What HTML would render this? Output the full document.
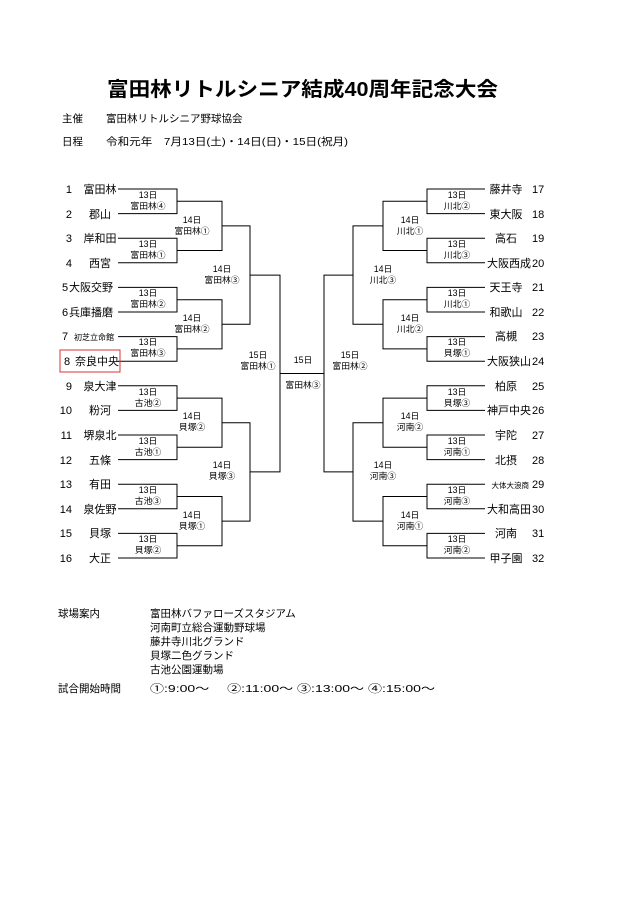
<!DOCTYPE html>
<html><head><meta charset="utf-8"><style>
html,body{margin:0;padding:0;background:#fff;}
svg{display:block;font-family:"Liberation Sans","Noto Sans CJK JP",sans-serif;}
.t{font-size:11px;fill:#000}
.l{font-size:8.8px;fill:#000;text-anchor:middle}
</style></head><body>
<svg width="640" height="905" viewBox="0 0 640 905" xmlns="http://www.w3.org/2000/svg">
<text x="107" y="96" font-size="20" font-weight="bold" textLength="391" lengthAdjust="spacingAndGlyphs">富田林リトルシニア結成40周年記念大会</text>
<text x="62" y="122" font-size="10.5">主催</text>
<text x="106" y="122" font-size="10.5">富田林リトルシニア野球協会</text>
<text x="62" y="145" font-size="10.5">日程</text>
<text x="106" y="145" font-size="10.5" textLength="242" lengthAdjust="spacingAndGlyphs">令和元年　7月13日(土)・14日(日)・15日(祝月)</text>

<g stroke="#000" stroke-width="1" fill="none">
<path d="M118 189H177V213.6H118 M118 238.2H177V262.8H118 M118 287.4H177V312H118 M118 336.6H177V361.2H118 M118 385.8H177V410.4H118 M118 435H177V459.6H118 M118 484.2H177V508.8H118 M118 533.4H177V558H118"/>
<path d="M177 201.3H222V250.5H177 M177 299.7H222V348.9H177 M177 398.1H222V447.3H177 M177 496.5H222V545.7H177"/>
<path d="M222 225.9H250V324.3H222 M222 422.7H250V521.1H222"/>
<path d="M250 275.1H280V471.9H250"/>
<path d="M280 373.5H324"/>
<path d="M485 189H427V213.6H485 M485 238.2H427V262.8H485 M485 287.4H427V312H485 M485 336.6H427V361.2H485 M485 385.8H427V410.4H485 M485 435H427V459.6H485 M485 484.2H427V508.8H485 M485 533.4H427V558H485"/>
<path d="M427 201.3H383V250.5H427 M427 299.7H383V348.9H427 M427 398.1H383V447.3H427 M427 496.5H383V545.7H427"/>
<path d="M383 225.9H353V324.3H383 M383 422.7H353V521.1H383"/>
<path d="M353 275.1H324V471.9H353"/>
</g>
<rect x="60" y="350" width="60" height="22" fill="none" stroke="#d33" stroke-width="1"/>

<g class="t">
<text x="72" y="193" text-anchor="end">1</text><text x="100" y="193" text-anchor="middle">富田林</text>
<text x="72" y="218" text-anchor="end">2</text><text x="100" y="218" text-anchor="middle">郡山</text>
<text x="72" y="242" text-anchor="end">3</text><text x="100" y="242" text-anchor="middle">岸和田</text>
<text x="72" y="267" text-anchor="end">4</text><text x="100" y="267" text-anchor="middle">西宮</text>
<text x="62" y="291">5</text><text x="69" y="291">大阪交野</text>
<text x="62" y="316">6</text><text x="69" y="316">兵庫播磨</text>
<text x="62" y="340">7</text><text x="74" y="340" font-size="8">初芝立命館</text>
<text x="64" y="365">8</text><text x="75" y="365">奈良中央</text>
<text x="72" y="390" text-anchor="end">9</text><text x="100" y="390" text-anchor="middle">泉大津</text>
<text x="72" y="414" text-anchor="end">10</text><text x="100" y="414" text-anchor="middle">粉河</text>
<text x="72" y="439" text-anchor="end">11</text><text x="100" y="439" text-anchor="middle">堺泉北</text>
<text x="72" y="464" text-anchor="end">12</text><text x="100" y="464" text-anchor="middle">五條</text>
<text x="72" y="488" text-anchor="end">13</text><text x="100" y="488" text-anchor="middle">有田</text>
<text x="72" y="513" text-anchor="end">14</text><text x="100" y="513" text-anchor="middle">泉佐野</text>
<text x="72" y="537" text-anchor="end">15</text><text x="100" y="537" text-anchor="middle">貝塚</text>
<text x="72" y="562" text-anchor="end">16</text><text x="100" y="562" text-anchor="middle">大正</text>
</g>
<g class="t">
<text x="506" y="193" text-anchor="middle">藤井寺</text><text x="532" y="193">17</text>
<text x="506" y="218" text-anchor="middle">東大阪</text><text x="532" y="218">18</text>
<text x="506" y="242" text-anchor="middle">高石</text><text x="532" y="242">19</text>
<text x="531" y="267" text-anchor="end">大阪西成</text><text x="532" y="267">20</text>
<text x="506" y="291" text-anchor="middle">天王寺</text><text x="532" y="291">21</text>
<text x="506" y="316" text-anchor="middle">和歌山</text><text x="532" y="316">22</text>
<text x="506" y="340" text-anchor="middle">高槻</text><text x="532" y="340">23</text>
<text x="531" y="365" text-anchor="end">大阪狭山</text><text x="532" y="365">24</text>
<text x="506" y="390" text-anchor="middle">柏原</text><text x="532" y="390">25</text>
<text x="531" y="414" text-anchor="end">神戸中央</text><text x="532" y="414">26</text>
<text x="506" y="439" text-anchor="middle">宇陀</text><text x="532" y="439">27</text>
<text x="506" y="464" text-anchor="middle">北摂</text><text x="532" y="464">28</text>
<text x="529" y="488" text-anchor="end" font-size="7.5">大体大浪商</text><text x="532" y="488">29</text>
<text x="531" y="513" text-anchor="end">大和高田</text><text x="532" y="513">30</text>
<text x="506" y="537" text-anchor="middle">河南</text><text x="532" y="537">31</text>
<text x="506" y="562" text-anchor="middle">甲子園</text><text x="532" y="562">32</text>
</g>

<g class="l">
<text x="148" y="198">13日</text><text x="148" y="209">富田林④</text>
<text x="148" y="247">13日</text><text x="148" y="258">富田林①</text>
<text x="148" y="296">13日</text><text x="148" y="307">富田林②</text>
<text x="148" y="345">13日</text><text x="148" y="356">富田林③</text>
<text x="148" y="395">13日</text><text x="148" y="406">古池②</text>
<text x="148" y="444">13日</text><text x="148" y="455">古池①</text>
<text x="148" y="493">13日</text><text x="148" y="504">古池③</text>
<text x="148" y="542">13日</text><text x="148" y="553">貝塚②</text>
<text x="192" y="223">14日</text><text x="192" y="234">富田林①</text>
<text x="192" y="321">14日</text><text x="192" y="332">富田林②</text>
<text x="192" y="419">14日</text><text x="192" y="430">貝塚②</text>
<text x="192" y="518">14日</text><text x="192" y="529">貝塚①</text>
<text x="222" y="272">14日</text><text x="222" y="283">富田林③</text>
<text x="222" y="468">14日</text><text x="222" y="479">貝塚③</text>
<text x="258" y="358">15日</text><text x="258" y="369">富田林①</text>
<text x="303" y="363">15日</text><text x="303" y="388">富田林③</text>
<text x="350" y="358">15日</text><text x="350" y="369">富田林②</text>
<text x="457" y="198">13日</text><text x="457" y="209">川北②</text>
<text x="457" y="247">13日</text><text x="457" y="258">川北③</text>
<text x="457" y="296">13日</text><text x="457" y="307">川北①</text>
<text x="457" y="345">13日</text><text x="457" y="356">貝塚①</text>
<text x="457" y="395">13日</text><text x="457" y="406">貝塚③</text>
<text x="457" y="444">13日</text><text x="457" y="455">河南①</text>
<text x="457" y="493">13日</text><text x="457" y="504">河南③</text>
<text x="457" y="542">13日</text><text x="457" y="553">河南②</text>
<text x="410" y="223">14日</text><text x="410" y="234">川北①</text>
<text x="410" y="321">14日</text><text x="410" y="332">川北②</text>
<text x="410" y="419">14日</text><text x="410" y="430">河南②</text>
<text x="410" y="518">14日</text><text x="410" y="529">河南①</text>
<text x="383" y="272">14日</text><text x="383" y="283">川北③</text>
<text x="383" y="468">14日</text><text x="383" y="479">河南③</text>
</g>

<g font-size="10.5">
<text x="58" y="617">球場案内</text>
<text x="150" y="617">富田林バファローズスタジアム</text>
<text x="150" y="631">河南町立総合運動野球場</text>
<text x="150" y="645">藤井寺川北グランド</text>
<text x="150" y="659">貝塚二色グランド</text>
<text x="150" y="673">古池公園運動場</text>
<text x="58" y="692">試合開始時間</text>
<text x="150" y="692" textLength="285" lengthAdjust="spacingAndGlyphs">①:9:00～　 ②:11:00～ ③:13:00～ ④:15:00～</text>
</g>
</svg>
</body></html>
